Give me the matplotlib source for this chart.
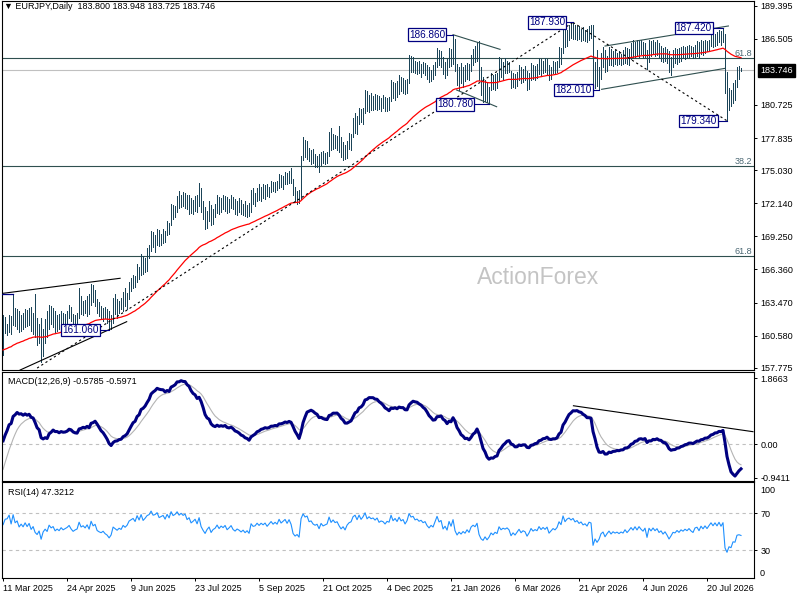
import numpy as np
import pandas as pd
import matplotlib
matplotlib.use("Agg")
import matplotlib.pyplot as plt
from matplotlib.transforms import blended_transform_factory

plt.rcParams['font.family'] = ['Liberation Sans', 'DejaVu Sans']

symbol = "EURJPY,Daily"
first_day = "2025-03-11"
holidays = ["2025-12-25", "2026-01-01"]

# daily bars (yen)
high = [
    162.4, 162.2, 161.6, 162.4, 162.3, 164.2, 163.0, 162.9, 162.7, 162.4,
    162.6, 162.9, 162.8, 163.0, 163.1, 162.6, 164.2, 162.1, 161.6, 162.1,
    161.2, 162.0, 162.7, 163.3, 163.2, 163.0, 162.7, 162.4, 162.5, 162.7,
    162.6, 162.5, 162.7, 163.3, 163.1, 162.5, 162.4, 162.6, 164.7, 164.0,
    163.6, 163.7, 164.0, 164.2, 165.1, 165.0, 164.6, 163.8, 163.5, 163.2,
    163.0, 163.1, 162.9, 162.7, 162.4, 163.9, 164.2, 163.8, 163.6, 163.9,
    164.4, 164.7, 164.3, 165.3, 165.6, 165.9, 165.8, 166.8, 166.6, 167.7,
    167.5, 167.4, 168.2, 168.5, 169.7, 169.6, 169.4, 169.9, 169.8, 169.5,
    169.9, 169.7, 170.6, 170.4, 172.1, 172.0, 171.9, 172.8, 173.2, 172.9,
    173.1, 173.0, 172.9, 172.9, 172.6, 172.4, 172.8, 172.9, 173.9, 173.5,
    172.3, 171.8, 171.5, 172.3, 172.0, 171.6, 172.1, 172.9, 172.7, 172.6,
    172.9, 172.8, 172.7, 172.5, 172.9, 172.7, 172.5, 172.3, 172.6, 172.4,
    172.1, 172.3, 172.0, 172.2, 173.3, 173.5, 173.0, 173.5, 173.8, 173.6,
    173.8, 173.7, 173.8, 173.6, 174.1, 174.0, 174.0, 174.1, 174.7, 174.6,
    174.5, 174.9, 174.8, 175.0, 175.2, 174.3, 173.6, 173.2, 173.3, 176.3,
    177.9, 177.7, 177.6, 177.0, 176.8, 176.9, 176.4, 176.3, 176.4, 176.6,
    176.7, 176.5, 176.6, 178.4, 178.7, 178.2, 178.1, 178.0, 178.9, 177.9,
    177.5, 177.2, 177.6, 178.3, 178.2, 179.6, 180.0, 179.8, 180.5, 180.4,
    180.5, 182.0, 181.9, 181.6, 181.8, 181.5, 181.7, 181.6, 181.5, 181.3,
    181.6, 181.4, 181.3, 181.4, 182.9, 182.7, 182.6, 182.8, 183.3, 183.2,
    183.1, 182.9, 183.0, 185.1, 185.0, 184.9, 184.6, 184.5, 184.6, 184.3,
    184.5, 184.4, 184.2, 184.0, 183.8, 184.2, 184.5, 185.7, 185.5, 185.4,
    184.9, 184.5, 184.7, 185.7, 185.6, 186.86, 186.5, 184.3, 184.0, 184.4,
    184.0, 184.2, 184.4, 184.3, 185.1, 185.6, 185.9, 186.2, 186.3, 184.0,
    183.2, 182.9, 182.7, 182.3, 183.5, 183.3, 183.4, 183.5, 184.9, 184.7,
    184.5, 184.8, 184.6, 184.5, 183.7, 183.5, 183.4, 183.6, 184.2, 184.0,
    183.9, 184.1, 183.7, 183.5, 184.4, 184.2, 184.1, 184.3, 184.8, 184.7,
    184.6, 184.8, 184.7, 184.2, 184.0, 184.6, 184.5, 184.6, 185.8, 185.7,
    187.5, 187.4, 187.3, 187.7, 187.8, 187.93, 187.7, 187.6, 187.6, 187.4,
    187.5, 187.3, 187.4, 187.6, 187.7, 187.7, 184.5, 185.5, 184.0, 185.3,
    185.8, 185.5, 185.0, 185.8, 185.6, 185.4, 185.5, 185.3, 185.4, 185.2,
    185.5, 185.8, 185.7, 185.6, 186.1, 186.4, 186.2, 186.4, 186.3, 186.4,
    186.2, 186.1, 185.5, 186.4, 186.3, 186.4, 186.2, 186.4, 186.1, 185.9,
    185.7, 185.8, 185.6, 185.4, 184.9, 185.5, 185.7, 185.6, 185.7, 185.8,
    185.9, 185.8, 185.9, 186.0, 185.9, 185.8, 186.0, 186.3, 186.2, 186.4,
    186.3, 186.4, 186.3, 186.4, 187.0, 187.1, 186.9, 187.1, 187.3, 187.2,
    187.42, 186.9, 183.6, 182.2, 182.0, 182.6, 182.9, 184.0, 184.1, 183.948,
]
low = [
    158.9, 160.8, 160.6, 160.9, 160.7, 161.5, 161.4, 161.2, 160.9, 161.0,
    161.2, 161.3, 161.4, 161.5, 161.0, 160.7, 160.5, 159.8, 159.9, 158.3,
    158.8, 159.9, 160.5, 161.2, 161.6, 161.3, 160.9, 161.0, 161.2, 161.5,
    161.6, 161.5, 161.6, 162.1, 161.9, 161.5, 161.6, 161.7, 162.1, 162.5,
    162.4, 162.6, 162.3, 162.5, 163.3, 163.5, 163.2, 162.6, 162.3, 162.0,
    161.9, 162.1, 161.7, 161.06, 161.2, 161.7, 162.5, 162.1, 162.6, 162.9,
    162.7, 163.2, 162.9, 163.8, 164.5, 164.7, 164.8, 165.3, 165.5, 165.9,
    166.0, 166.1, 166.2, 167.4, 168.0, 168.3, 167.9, 168.5, 168.4, 168.5,
    168.7, 168.8, 169.4, 169.5, 170.2, 170.8, 170.9, 171.4, 171.7, 171.8,
    171.9, 171.7, 171.6, 171.2, 171.3, 171.2, 171.5, 171.4, 171.9, 171.4,
    170.8, 169.9, 170.0, 170.6, 170.2, 170.3, 170.9, 171.3, 171.2, 171.4,
    171.6, 171.5, 171.3, 171.4, 171.7, 171.6, 171.2, 171.1, 171.4, 171.2,
    171.1, 171.0, 170.9, 171.0, 171.4, 172.1, 171.9, 172.3, 172.4, 172.3,
    172.6, 172.5, 172.8, 172.7, 173.1, 173.2, 173.1, 173.3, 173.5, 173.6,
    173.4, 173.8, 173.8, 173.9, 173.9, 172.9, 172.3, 172.1, 172.2, 172.5,
    175.9, 176.2, 176.0, 175.8, 175.6, 175.7, 175.3, 175.3, 174.9, 175.5,
    175.7, 175.6, 175.7, 176.3, 176.8, 176.9, 177.0, 176.8, 176.6, 176.2,
    175.9, 176.0, 176.1, 176.9, 176.8, 177.9, 178.3, 178.2, 179.1, 179.2,
    179.1, 180.0, 180.2, 180.1, 180.3, 180.3, 180.4, 180.3, 180.4, 180.2,
    180.5, 180.2, 180.2, 180.3, 181.1, 181.3, 181.2, 181.4, 181.7, 181.9,
    181.8, 181.7, 181.8, 182.6, 183.6, 183.6, 183.5, 183.4, 183.5, 183.2,
    183.5, 183.3, 183.0, 182.7, 182.8, 183.0, 183.3, 184.0, 184.2, 184.0,
    183.4, 183.1, 183.3, 184.0, 184.1, 184.3, 183.7, 182.5, 182.0, 182.6,
    182.3, 182.8, 183.0, 182.9, 183.7, 184.2, 184.5, 184.6, 182.9, 181.6,
    181.0, 181.1, 181.0, 180.78, 182.0, 182.1, 182.0, 182.2, 182.9, 183.2,
    183.0, 183.5, 183.5, 183.6, 182.2, 182.3, 182.2, 182.4, 182.9, 182.6,
    182.7, 182.9, 182.0, 182.1, 182.9, 183.0, 182.9, 183.1, 183.4, 183.3,
    183.5, 183.6, 183.4, 182.9, 183.0, 183.5, 183.5, 183.6, 184.0, 184.3,
    185.3, 185.8, 185.9, 186.4, 186.6, 186.5, 186.5, 186.4, 186.5, 186.3,
    186.4, 186.3, 186.2, 186.4, 186.6, 182.3, 182.2, 182.4, 182.01, 183.0,
    184.0, 183.6, 183.7, 184.2, 184.2, 184.1, 184.3, 184.2, 184.3, 184.2,
    184.3, 184.4, 184.3, 184.2, 184.7, 184.9, 184.9, 185.1, 184.9, 185.2,
    184.9, 184.9, 183.9, 184.5, 185.0, 185.2, 185.0, 185.1, 184.9, 184.6,
    184.5, 184.6, 184.4, 183.6, 183.3, 184.0, 184.4, 184.3, 184.5, 184.6,
    184.8, 184.7, 184.9, 184.9, 185.0, 184.8, 184.9, 185.0, 184.8, 185.2,
    185.1, 185.3, 185.4, 185.5, 185.9, 185.8, 185.9, 186.0, 186.2, 186.0,
    186.2, 181.8, 179.34, 180.3, 180.6, 180.9, 181.2, 182.3, 183.0, 183.725,
]
close = [
    160.2, 161.2, 161.3, 162.1, 161.0, 163.3, 162.0, 162.5, 161.4, 162.1,
    161.6, 162.6, 161.9, 162.7, 161.5, 162.2, 160.9, 160.4, 161.2, 159.0,
    160.8, 161.6, 161.0, 162.9, 162.2, 162.6, 161.5, 162.0, 161.6, 162.4,
    161.9, 162.2, 162.5, 163.0, 162.3, 161.8, 162.1, 162.3, 163.9, 163.0,
    163.3, 162.9, 163.6, 162.8, 164.8, 163.9, 164.3, 163.0, 162.7, 162.5,
    162.8, 162.3, 162.0, 161.4, 161.9, 163.5, 163.2, 162.9, 163.3, 163.1,
    163.9, 163.6, 164.0, 164.9, 165.2, 165.5, 165.1, 166.5, 165.9, 167.4,
    166.5, 167.1, 167.9, 168.2, 169.4, 168.8, 169.0, 169.6, 168.9, 169.2,
    169.5, 169.0, 170.3, 169.8, 171.8, 171.2, 171.6, 172.5, 172.0, 172.6,
    172.3, 172.7, 171.9, 172.4, 171.6, 172.0, 172.5, 171.8, 173.4, 171.8,
    171.0, 170.3, 171.2, 171.8, 170.6, 171.3, 171.6, 172.4, 171.7, 172.3,
    172.0, 172.5, 171.7, 172.1, 172.6, 171.9, 171.6, 172.0, 171.8, 171.5,
    171.8, 171.4, 171.7, 171.3, 173.0, 172.6, 172.7, 173.2, 172.9, 173.3,
    173.1, 173.4, 173.0, 173.4, 173.8, 173.5, 173.8, 173.6, 174.4, 174.0,
    174.3, 174.6, 174.2, 174.8, 174.3, 173.1, 172.7, 172.9, 172.5, 175.9,
    177.4, 176.9, 177.2, 176.3, 176.5, 176.0, 175.8, 176.0, 175.3, 176.4,
    176.0, 176.2, 176.4, 178.0, 177.2, 177.8, 177.4, 177.6, 177.0, 176.5,
    176.9, 176.4, 177.3, 177.8, 178.0, 179.2, 179.6, 179.0, 180.2, 179.6,
    180.3, 181.5, 180.6, 181.2, 180.9, 181.1, 180.8, 181.3, 180.7, 181.0,
    180.9, 180.6, 181.1, 181.0, 182.5, 181.8, 182.3, 181.9, 182.9, 182.4,
    182.7, 182.1, 182.8, 184.7, 184.2, 184.4, 183.9, 184.1, 183.8, 184.0,
    183.7, 183.9, 183.4, 183.1, 183.5, 183.3, 184.2, 185.3, 184.6, 184.9,
    183.7, 184.2, 183.6, 185.4, 184.6, 186.3, 184.0, 182.9, 183.6, 183.1,
    183.7, 183.3, 184.1, 183.5, 184.8, 185.3, 185.0, 185.9, 183.3, 182.0,
    181.5, 182.3, 181.4, 182.0, 183.0, 182.5, 183.1, 182.8, 184.5, 183.8,
    184.2, 184.0, 184.3, 183.9, 182.6, 183.2, 182.7, 183.3, 183.9, 183.2,
    183.6, 183.4, 182.5, 183.1, 184.0, 183.5, 183.8, 183.6, 184.4, 183.9,
    184.3, 184.0, 184.4, 183.4, 183.8, 184.2, 184.0, 184.4, 185.5, 185.1,
    187.2, 186.3, 187.0, 187.3, 187.0, 187.4, 186.9, 187.2, 186.8, 187.1,
    186.7, 186.9, 186.6, 187.3, 187.2, 182.8, 184.0, 183.0, 183.6, 184.8,
    185.2, 184.0, 184.7, 185.3, 184.6, 185.1, 184.8, 185.0, 184.7, 185.0,
    184.8, 185.4, 184.9, 185.3, 185.8, 185.4, 186.0, 185.5, 186.1, 185.7,
    185.4, 185.9, 184.3, 186.0, 185.5, 186.1, 185.6, 186.0, 185.3, 185.6,
    185.0, 185.4, 184.8, 184.0, 184.5, 185.1, 185.0, 185.4, 185.1, 185.5,
    185.3, 185.6, 185.4, 185.7, 185.4, 185.2, 185.8, 185.9, 185.5, 186.1,
    185.8, 186.2, 185.9, 186.3, 186.7, 186.4, 186.8, 186.5, 187.0, 186.6,
    187.1, 182.6, 181.0, 181.9, 181.6, 182.6, 182.5, 183.8, 183.9, 183.746,
]
last_open = 183.800
# indicator readings printed in the panel headers
macd_shown, signal_shown, rsi_shown = -0.5785, -0.5971, 47.3212

# indicator start values read at the left edge of the chart
ma_start = 159.3
macd_start = 158.9
signal_start = -0.9
rsi_up_start, rsi_dn_start = 0.30, 0.22

fib_levels = [184.85, 175.38, 167.50]
fib_names = ["61.8", "38.2", "61.8"]

price_ticks = [189.395, 186.505, 180.725, 177.835, 175.030, 172.140,
               169.250, 166.360, 163.470, 160.580, 157.775]
macd_ticks = [1.8663, 0.0, -0.9411]
macd_tick_labels = ["1.8663", "0.00", "-0.9411"]

# swing labels: bar, high or low, gap (bars) between box and bar
swings = [(53, "l", 5), (225, "h", 4), (243, "l", 8),
          (285, "h", 4), (298, "l", 3.5), (360, "h", 5.5), (362, "l", 5)]
edge_swing = 5   # its label box sits off the left edge, only the leader shows

# trend lines as (bar, price) end points
black_lines = [[(0, 164.28), (58.5, 165.59)], [(8.5, 157.58), (61.8, 161.80)]]
slate_lines = [[(225, 186.86), (248.5, 185.58)], [(226.8, 182.03), (246.8, 180.57)],
               [(301, 185.87), (362.7, 187.62)], [(299.3, 182.09), (361, 183.92)]]
dashed_lines = [[(17, 157.75), (285, 187.93)], [(285, 187.93), (362, 179.34)]]
macd_trend = [(285.2, 1.09), (375, 0.36)]

n = len(close)
days = pd.bdate_range(first_day, periods=n + 5)
days = days[~days.isin(pd.to_datetime(holidays))][:n]
x = np.arange(n)
c = np.array(close)


def ema(values, span, start):
    k = 2.0 / (span + 1)
    out, e = [], start
    for v in values:
        e += k * (v - e)
        out.append(e)
    return np.array(out)


ma55 = ema(c, 55, ma_start)
macd = ema(c, 12, macd_start) - ema(c, 26, macd_start)
signal = ema(macd, 9, signal_start)

diff = np.diff(c, prepend=c[0])
up, dn = rsi_up_start, rsi_dn_start
rsi = []
for d in diff:
    up = (up * 13 + max(d, 0)) / 14
    dn = (dn * 13 + max(-d, 0)) / 14
    rsi.append(100 - 100 / (1 + up / dn))
rsi = np.array(rsi)

bar_col = "#1b4458"
navy = "#000080"
slate = "#2f4f4f"
fs = 6.5

fig = plt.figure(figsize=(8, 6), dpi=100)
ax = fig.add_axes([0.0019, 0.3833, 0.9406, 0.615])
ax2 = fig.add_axes([0.0019, 0.1988, 0.9406, 0.1812])
ax3 = fig.add_axes([0.0019, 0.0362, 0.9406, 0.160])
xlim = (-0.8, 375.5)

# price panel
ax.vlines(x, low, high, colors=bar_col, lw=0.5, antialiased=False, zorder=3)
ax.plot(x, ma55, color="red", lw=0.9, zorder=4)
for lvl, name in zip(fib_levels, fib_names):
    ax.axhline(lvl, color=slate, lw=0.8, zorder=2)
    ax.text(0.997, lvl, name, transform=blended_transform_factory(ax.transAxes, ax.transData),
            ha="right", va="bottom", fontsize=fs, color="#4a6773")
ax.axhline(c[-1], color="#c0c0c0", lw=0.8, zorder=1)
for ln in black_lines:
    ax.plot(*zip(*ln), color="black", lw=0.8, zorder=5)
for ln in slate_lines:
    ax.plot(*zip(*ln), color=slate, lw=0.8, zorder=5)
for ln in dashed_lines:
    ax.plot(*zip(*ln), color="black", lw=0.8, ls=(0, (2, 2.5)), zorder=5)
for bar, kind, gap in swings:
    p = high[bar] if kind == "h" else low[bar]
    ax.plot([bar - gap, bar], [p, p], color=navy, lw=0.8, zorder=6)
    ax.text(bar - gap, p, f"{p:.3f}", ha="right", va="center", fontsize=7.2,
            color=navy, zorder=7,
            bbox=dict(boxstyle="square,pad=0.12", fc="white", ec=navy, lw=0.9))
ax.plot([xlim[0], edge_swing], [high[edge_swing]] * 2, color=navy, lw=0.9, zorder=6)
ax.text(0.713, 0.25, "ActionForex", transform=ax.transAxes, ha="center", va="center",
        fontsize=16.5, color="#c4c4c4", zorder=0)
ax.text(0.003, 1 - 5.5 / 369, f"\u25BC {symbol}  {last_open:.3f} {high[-1]:.3f} {low[-1]:.3f} {close[-1]:.3f}",
        transform=ax.transAxes, ha="left", va="center", fontsize=fs, color="black")
ax.annotate(f"{c[-1]:.3f}", xy=(1, c[-1]), xycoords=("axes fraction", "data"),
            xytext=(4.5, 0), textcoords="offset points", ha="left", va="center",
            fontsize=fs, color="white", annotation_clip=False,
            bbox=dict(boxstyle="square,pad=0.25", fc="black", ec="black"))
ax.set_ylim(157.58, 189.80)
ax.set_yticks(price_ticks)
ax.set_yticklabels([f"{v:.3f}" for v in price_ticks])

# MACD panel
ax2.axhline(0, color="#c0c0c0", lw=0.8, ls=(0, (3, 3)))
ax2.plot(x, signal, color="#b4b4b4", lw=0.8)
ax2.plot(x, macd, color=navy, lw=2.2)
ax2.plot(*zip(*macd_trend), color="black", lw=0.8)
ax2.set_ylim(-1.02, 2.04)
ax2.set_yticks(macd_ticks)
ax2.set_yticklabels(macd_tick_labels)
ax2.text(0.008, 1 - 9.7 / 108.7, f"MACD(12,26,9) {macd_shown:.4f} {signal_shown:.4f}",
         transform=ax2.transAxes, ha="left", va="center", fontsize=fs)

# RSI panel
for lvl in (70, 30):
    ax3.axhline(lvl, color="#c0c0c0", lw=0.8, ls=(0, (3, 3)))
ax3.plot(x, rsi, color="#1e90ff", lw=0.8)
ax3.set_ylim(-0.8, 103.8)
ax3.set_yticks([70, 30])
tr = blended_transform_factory(ax3.transAxes, ax3.transData)
ax3.text(1.008, 100, "100", transform=tr, ha="left", va="top", fontsize=fs)
ax3.text(1.008, 0, "0", transform=tr, ha="left", va="bottom", fontsize=fs)
ax3.text(0.008, 0.892, f"RSI(14) {rsi_shown:.4f}", transform=ax3.transAxes,
         ha="left", va="center", fontsize=fs)
pos = list(range(0, n, 32))
ax3.set_xticks(pos)
ax3.set_xticklabels([f"{days[i].day} {days[i]:%b %Y}" for i in pos], ha="left")

for a in (ax, ax2, ax3):
    a.set_xlim(*xlim)
    a.yaxis.tick_right()
    a.tick_params(axis="y", direction="out", length=2.5, width=0.7, labelsize=fs, pad=2)
    for s in a.spines.values():
        s.set_linewidth(0.8)
for a in (ax, ax2):
    a.set_xticks([])
ax3.tick_params(axis="x", direction="out", length=2.5, width=0.7, labelsize=fs, pad=1.5)

fig.savefig("out.png", dpi=100)
